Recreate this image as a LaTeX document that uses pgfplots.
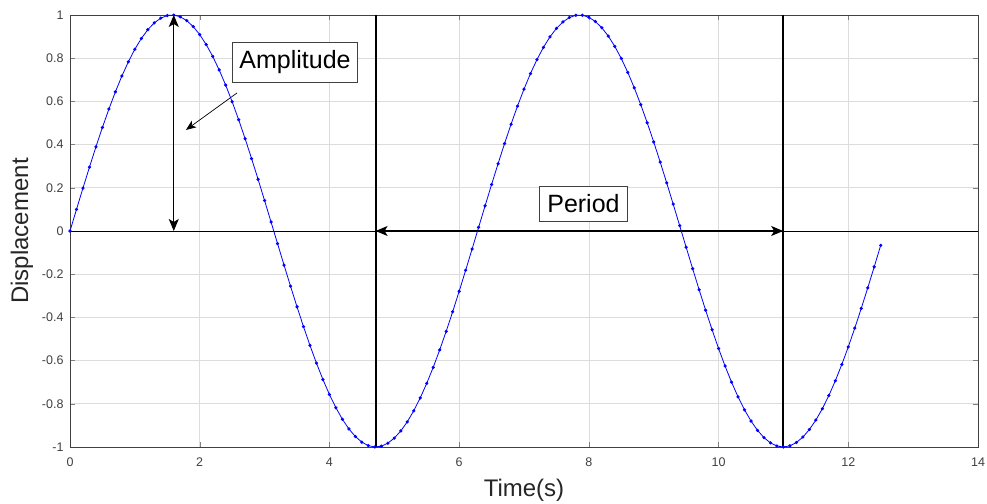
\documentclass[border=0pt]{standalone}
\usepackage{fontspec}
\setmainfont{Liberation Sans}
\usepackage{pgfplots}
\pgfplotsset{compat=1.18}
\usetikzlibrary{arrows.meta, calc}
\definecolor{tickgray}{HTML}{404040}
\definecolor{labelgray}{HTML}{262626}
\definecolor{gridgray}{HTML}{DCDCDC}

\begin{document}
\begin{tikzpicture}
\begin{axis}[
    scale only axis,
    width=908pt, height=432pt,
    xmin=0, xmax=14, ymin=-1, ymax=1,
    xtick={0,2,...,14},
    ytick={-1,-0.8,...,1},
    yticklabels={-1,-0.8,-0.6,-0.4,-0.2,0,0.2,0.4,0.6,0.8,1},
    /pgf/number format/assume math mode=true,
    tick label style={font=\fontsize{12.5}{14}\selectfont, text=tickgray},
    xticklabel style={yshift=-7pt},
    yticklabel style={xshift=-3pt},
    tick align=inside,
    major tick length=5pt,
    axis line style={draw=tickgray, line width=0.9pt},
    grid=major,
    major grid style={draw=gridgray, line width=0.6pt},
    xlabel={Time(s)},
    ylabel={Displacement},
    label style={font=\fontsize{24}{28}\selectfont, text=labelgray},
    xlabel style={at={(axis description cs:0.5,-0.0995)}, anchor=center},
    ylabel style={at={(axis description cs:-0.0529,0.5)}, anchor=center},
    clip=false,
]
% zero line
\addplot[black, line width=0.9pt] coordinates {(0,0) (14,0)};
% period markers
\addplot[black, line width=1.8pt] coordinates {(4.712,-1) (4.712,1)};
\addplot[black, line width=1.8pt] coordinates {(10.996,-1) (10.996,1)};

\addplot[blue, line width=0.8pt, mark=*, mark size=1.2pt] coordinates {
(0.0,0.0000) (0.1,0.0998) (0.2,0.1987) (0.3,0.2955) (0.4,0.3894)
(0.5,0.4794) (0.6,0.5646) (0.7,0.6442) (0.8,0.7174) (0.9,0.7833)
(1.0,0.8415) (1.1,0.8912) (1.2,0.9320) (1.3,0.9636) (1.4,0.9854)
(1.5,0.9975) (1.6,0.9996) (1.7,0.9917) (1.8,0.9738) (1.9,0.9463)
(2.0,0.9093) (2.1,0.8632) (2.2,0.8085) (2.3,0.7457) (2.4,0.6755)
(2.5,0.5985) (2.6,0.5155) (2.7,0.4274) (2.8,0.3350) (2.9,0.2392)
(3.0,0.1411) (3.1,0.0416) (3.2,-0.0584) (3.3,-0.1577) (3.4,-0.2555)
(3.5,-0.3508) (3.6,-0.4425) (3.7,-0.5298) (3.8,-0.6119) (3.9,-0.6878)
(4.0,-0.7568) (4.1,-0.8183) (4.2,-0.8716) (4.3,-0.9162) (4.4,-0.9516)
(4.5,-0.9775) (4.6,-0.9937) (4.7,-0.9999) (4.8,-0.9962) (4.9,-0.9825)
(5.0,-0.9589) (5.1,-0.9258) (5.2,-0.8835) (5.3,-0.8323) (5.4,-0.7728)
(5.5,-0.7055) (5.6,-0.6313) (5.7,-0.5507) (5.8,-0.4646) (5.9,-0.3739)
(6.0,-0.2794) (6.1,-0.1822) (6.2,-0.0831) (6.3,0.0168) (6.4,0.1165)
(6.5,0.2151) (6.6,0.3115) (6.7,0.4048) (6.8,0.4941) (6.9,0.5784)
(7.0,0.6570) (7.1,0.7290) (7.2,0.7937) (7.3,0.8504) (7.4,0.8987)
(7.5,0.9380) (7.6,0.9679) (7.7,0.9882) (7.8,0.9985) (7.9,0.9989)
(8.0,0.9894) (8.1,0.9699) (8.2,0.9407) (8.3,0.9022) (8.4,0.8546)
(8.5,0.7985) (8.6,0.7344) (8.7,0.6630) (8.8,0.5849) (8.9,0.5010)
(9.0,0.4121) (9.1,0.3191) (9.2,0.2229) (9.3,0.1245) (9.4,0.0248)
(9.5,-0.0752) (9.6,-0.1743) (9.7,-0.2718) (9.8,-0.3665) (9.9,-0.4575)
(10.0,-0.5440) (10.1,-0.6251) (10.2,-0.6999) (10.3,-0.7677) (10.4,-0.8278)
(10.5,-0.8797) (10.6,-0.9228) (10.7,-0.9566) (10.8,-0.9809) (10.9,-0.9954)
(11.0,-1.0000) (11.1,-0.9946) (11.2,-0.9792) (11.3,-0.9540) (11.4,-0.9193)
(11.5,-0.8755) (11.6,-0.8228) (11.7,-0.7620) (11.8,-0.6935) (11.9,-0.6181)
(12.0,-0.5366) (12.1,-0.4496) (12.2,-0.3582) (12.3,-0.2632) (12.4,-0.1656)
(12.5,-0.0663)
};

% annotations
\draw[{Stealth[length=12pt,width=10pt,inset=3pt]}-{Stealth[length=12pt,width=10pt,inset=3pt]}, black, line width=1pt]
    (axis cs:1.6,0) -- (axis cs:1.6,1);
\draw[-{Stealth[length=10pt,width=8pt,inset=2.5pt]}, black, line width=0.7pt]
    (axis cs:2.575,0.639) -- (axis cs:1.788,0.468);
\node[draw=tickgray, fill=white, line width=0.9pt, inner xsep=7pt, inner ysep=8.5pt,
      font=\fontsize{25}{28}\selectfont] at (axis cs:3.469,0.780) {Amplitude};
\draw[{Stealth[length=12pt,width=10pt,inset=3pt]}-{Stealth[length=12pt,width=10pt,inset=3pt]}, black, line width=1pt]
    (axis cs:4.712,0) -- (axis cs:10.996,0);
\node[draw=tickgray, fill=white, line width=0.9pt, inner xsep=8pt, inner ysep=8.5pt,
      font=\fontsize{25}{28}\selectfont] at (axis cs:7.917,0.125) {Period};
\end{axis}
\pgfresetboundingbox
\path ($(current axis.south west)+(-70pt,-57pt)$) rectangle ($(current axis.north east)+(9pt,15pt)$);
\end{tikzpicture}
\end{document}
